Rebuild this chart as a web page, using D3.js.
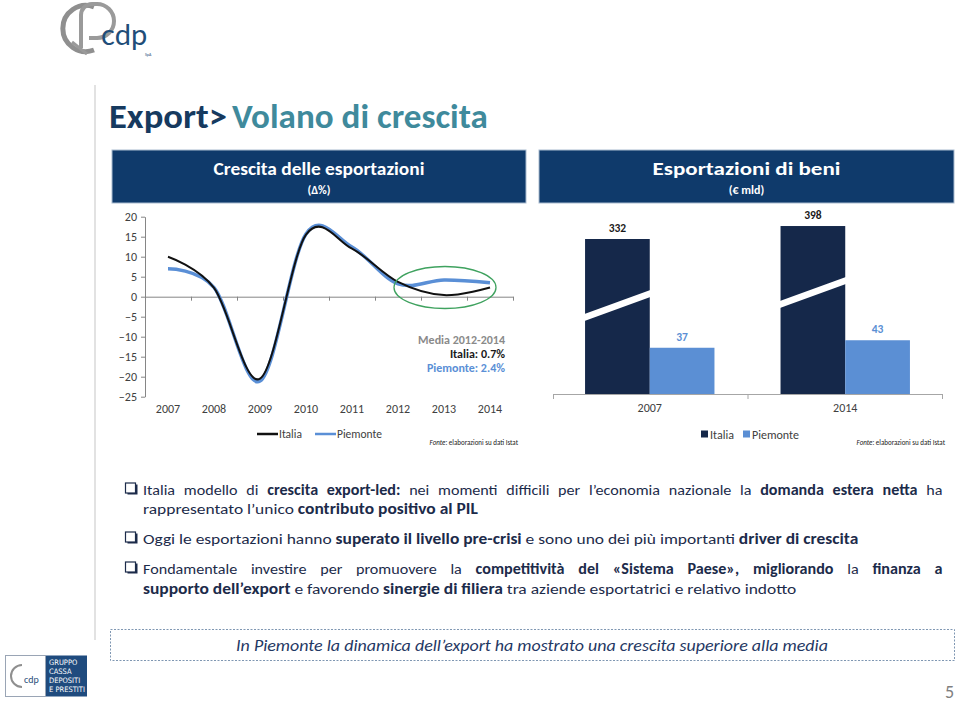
<!DOCTYPE html>
<html>
<head>
<meta charset="utf-8">
<script src="https://cdn.jsdelivr.net/npm/d3@7"></script>
<style>
  body { margin: 0; background: #fff; }
  svg { display: block; font-family: Carlito, Lato, "Open Sans", sans-serif; }
</style>
</head>
<body>
<div id="slide"></div>
<script>
// Chart data
const years = ["2007", "2008", "2009", "2010", "2011", "2012", "2013", "2014"];
const italiaGrowth = [10.0, 2.2, -20.5, 15.5, 12.0, 3.7, 0.4, 2.3];
const piemonteGrowth = [7.0, 2.3, -21.1, 15.7, 12.4, 3.2, 4.2, 3.5];
const growthTicks = [20, 15, 10, 5, 0, -5, -10, -15, -20, -25];
const mediaLabels = ["Media 2012-2014", "Italia: 0.7%", "Piemonte: 2.4%"];

const barYears = ["2007", "2014"];
const italiaExport = [332, 398];
const piemonteExport = [37, 43];
const seriesNames = ["Italia", "Piemonte"];

const fonteText = "elaborazioni su dati Istat";

const bullets = [
  [["Italia modello di ", 0], ["crescita export-led:", 1], [" nei momenti difficili per l’economia nazionale la ", 0], ["domanda estera netta", 1], [" ha", 0]],
  [["rappresentato l’unico ", 0], ["contributo positivo al PIL", 1]],
  [["Oggi le esportazioni hanno ", 0], ["superato il livello pre-crisi", 1], [" e sono uno dei più importanti ", 0], ["driver di crescita", 1]],
  [["Fondamentale investire per promuovere la ", 0], ["competitività del «Sistema Paese»,", 1], [" ", 0], ["migliorando", 1], [" la ", 0], ["finanza a", 1]],
  [["supporto dell’export", 1], [" e favorendo ", 0], ["sinergie di filiera", 1], [" tra aziende esportatrici e relativo indotto", 0]]
];

const navy = "#0f3a6b";
const barDark = "#15284a";
const blue = "#5a8fd6";
const textNavy = "#1c2b4a";

const svg = d3.select("#slide").append("svg")
    .attr("width", 960)
    .attr("height", 703);

// stretch or squeeze a text to a target width (stands in for Calibri metrics)
function fit(text, width, ax) {
    const w = text.node().getComputedTextLength();
    const k = width / w;
    text.attr("transform", `translate(${ax},0) scale(${k},1) translate(${-ax},0)`);
    return k;
}

// ---------- slide frame ----------
svg.append("line")
    .attr("x1", 95).attr("x2", 95).attr("y1", 85).attr("y2", 640)
    .attr("stroke", "#d9d9d9").attr("stroke-width", 1.5);

// top logo
const logo = svg.append("g");
logo.append("path")
    .attr("d", "M94,7 A23,23 0 1,0 94,50")
    .attr("fill", "none").attr("stroke", "#8f8f8f").attr("stroke-width", 5);
logo.append("path")
    .attr("d", "M81,48 L81,15 A11,11 0 0,1 92,4 L97,4 A17,17 0 0,1 97,38 L89,38")
    .attr("fill", "none").attr("stroke", "#9a9a9a").attr("stroke-width", 4);
logo.append("path")
    .attr("d", "M72,42 L87,54")
    .attr("fill", "none").attr("stroke", "#9a9a9a").attr("stroke-width", 3);
logo.append("text")
    .attr("x", 101).attr("y", 45)
    .attr("font-size", 29).attr("fill", "#1f4e79")
    .attr("font-family", "Lato, sans-serif")
    .text("cdp");
logo.append("text")
    .attr("x", 145).attr("y", 56)
    .attr("font-size", 4).attr("fill", "#1f4e79")
    .text("SpA");

// slide title
const t1 = svg.append("text")
    .attr("x", 109).attr("y", 128)
    .attr("font-size", 34).attr("font-weight", 700)
    .attr("fill", "#163a5f")
    .text("Export>");
fit(t1, 118, 109);
const t2 = svg.append("text")
    .attr("x", 232).attr("y", 128)
    .attr("font-size", 34).attr("font-weight", 700)
    .attr("fill", "#3f8a9c")
    .text("Volano di crescita");
fit(t2, 256, 232);

// panel headers
function header(x0, x1, title, sub, titleW) {
    svg.append("rect")
        .attr("x", x0).attr("y", 150)
        .attr("width", x1 - x0).attr("height", 53)
        .attr("fill", navy)
        .attr("stroke", "#a9bbd0").attr("stroke-width", 1);
    const cx = (x0 + x1) / 2;
    const tt = svg.append("text")
        .attr("x", cx).attr("y", 175)
        .attr("text-anchor", "middle")
        .attr("font-size", 19).attr("font-weight", 700)
        .attr("fill", "#fff")
        .text(title);
    fit(tt, titleW, cx);
    svg.append("text")
        .attr("x", cx).attr("y", 194)
        .attr("text-anchor", "middle")
        .attr("font-size", 12).attr("font-weight", 700)
        .attr("fill", "#fff")
        .text(sub);
}
header(112, 526, "Crescita delle esportazioni", "(Δ%)", 211);
header(539, 954, "Esportazioni di beni", "(€ mld)", 188);

// ---------- line chart ----------
const lx = d3.scaleBand().domain(years).range([145, 513]);
const ly = d3.scaleLinear().domain([-25, 20]).range([396.7, 216.7]);
const edge = d3.scaleLinear().domain([0, years.length]).range([145, 513]);

const axisColor = "#868686";

const yAxis = svg.append("g")
    .attr("transform", "translate(145,0)")
    .call(d3.axisLeft(ly).tickValues(growthTicks).tickSize(4).tickSizeOuter(0).tickPadding(4));
yAxis.selectAll("text").attr("font-size", 12).attr("fill", "#404040")
    .attr("font-family", "Carlito, Lato, sans-serif");

const zeroAxis = svg.append("g")
    .attr("transform", `translate(0,${ly(0)})`)
    .call(d3.axisBottom(edge).ticks(years.length).tickSize(4).tickSizeOuter(0).tickFormat(""));

const yearAxis = svg.append("g")
    .attr("transform", "translate(0,401)")
    .call(d3.axisBottom(lx).tickSize(0).tickPadding(3));
yearAxis.select(".domain").remove();
yearAxis.selectAll("text").attr("font-size", 12).attr("fill", "#404040")
    .attr("font-family", "Carlito, Lato, sans-serif");

[yAxis, zeroAxis].forEach(g => {
    g.selectAll(".domain, line").attr("stroke", axisColor);
});

const line = d3.line()
    .x((d, i) => lx(years[i]) + lx.bandwidth() / 2)
    .y(d => ly(d))
    .curve(d3.curveCardinal.tension(0));

svg.append("path")
    .datum(piemonteGrowth)
    .attr("d", line)
    .attr("fill", "none")
    .attr("stroke", blue)
    .attr("stroke-width", 3.5);

svg.append("path")
    .datum(italiaGrowth)
    .attr("d", line)
    .attr("fill", "none")
    .attr("stroke", "#111")
    .attr("stroke-width", 2);

// highlight ellipse round the last years
svg.append("ellipse")
    .attr("cx", (lx("2012") + lx("2014") + lx.bandwidth()) / 2 + 1)
    .attr("cy", ly(2.3))
    .attr("rx", 51).attr("ry", 21)
    .attr("fill", "none")
    .attr("stroke", "#3fa25f").attr("stroke-width", 1.3);

const mediaColors = ["#8a8a8a", "#1a1a1a", blue];
svg.selectAll(".media")
    .data(mediaLabels)
    .enter().append("text")
    .attr("class", "media")
    .attr("x", 505)
    .attr("y", (d, i) => 344 + i * 14)
    .attr("text-anchor", "end")
    .attr("font-size", 12).attr("font-weight", 700)
    .attr("fill", (d, i) => mediaColors[i])
    .text(d => d);

// line legend
const lineLegendX = [257, 315];
const lineColors = ["#111", blue];
seriesNames.forEach((name, i) => {
    svg.append("line")
        .attr("x1", lineLegendX[i]).attr("x2", lineLegendX[i] + 21)
        .attr("y1", 434).attr("y2", 434)
        .attr("stroke", lineColors[i]).attr("stroke-width", 2.5);
    svg.append("text")
        .attr("x", lineLegendX[i] + 22).attr("y", 438)
        .attr("font-size", 11.5).attr("fill", "#404040")
        .text(name);
});

function fonte(xEnd) {
    const t = svg.append("text")
        .attr("x", xEnd).attr("y", 445)
        .attr("text-anchor", "end")
        .attr("font-size", 7).attr("fill", "#222");
    t.append("tspan").attr("font-style", "italic").text("Fonte");
    t.append("tspan").text(": " + fonteText);
}
fonte(518);
fonte(945);

// ---------- bar chart ----------
const bx0 = d3.scaleBand().domain(barYears).range([553, 942])
    .paddingInner(0.338).paddingOuter(0.164);
const bx1 = d3.scaleBand().domain(seriesNames).range([0, bx0.bandwidth()]);
const bEdge = d3.scaleLinear().domain([0, barYears.length]).range([553, 942]);
// broken value axis for Italia, plain one for Piemonte
const yItalia = d3.scaleLinear().domain([0, 40, 300, 450]).range([394, 344, 245.3, 215.8]);
const yPiem = d3.scaleLinear().domain([0, 50]).range([394, 331.5]);

const barData = barYears.map((yr, i) => ({
    year: yr,
    values: [
        { name: "Italia", v: italiaExport[i], y: yItalia, fill: barDark, label: "#1a1a1a" },
        { name: "Piemonte", v: piemonteExport[i], y: yPiem, fill: "#5b8fd4", label: "#5b8fd4" }
    ]
}));

const groups = svg.selectAll(".bargroup")
    .data(barData)
    .enter().append("g")
    .attr("class", "bargroup")
    .attr("transform", d => `translate(${bx0(d.year)},0)`);

groups.selectAll("rect")
    .data(d => d.values)
    .enter().append("rect")
    .attr("x", d => bx1(d.name))
    .attr("width", bx1.bandwidth())
    .attr("y", d => d.y(d.v))
    .attr("height", d => d.y(0) - d.y(d.v))
    .attr("fill", d => d.fill);

// axis break on the Italia bars
groups.each(function (d) {
    const it = d.values[0];
    const top = it.y(it.v);
    const xa = bx1("Italia") - 2, xb = bx1("Italia") + bx1.bandwidth() + 2;
    const ya = top + 79, yb = top + 54, th = 3.5;
    d3.select(this).append("path")
        .attr("d", `M${xa},${ya - th} L${xb},${yb - th} L${xb},${yb + th} L${xa},${ya + th} Z`)
        .attr("fill", "#fff");
});

groups.selectAll(".vlabel")
    .data(d => d.values)
    .enter().append("text")
    .attr("class", "vlabel")
    .attr("x", d => bx1(d.name) + bx1.bandwidth() / 2)
    .attr("y", d => d.y(d.v) - 7)
    .attr("text-anchor", "middle")
    .attr("font-size", 11.5)
    .attr("font-weight", 700)
    .attr("fill", d => d.label)
    .text(d => d.v);

const bAxis = svg.append("g")
    .attr("transform", "translate(0,394)")
    .call(d3.axisBottom(bEdge).ticks(barYears.length).tickSize(5).tickSizeOuter(0).tickFormat(""));
bAxis.selectAll(".domain, line").attr("stroke", "#a6a6a6");

const bYearAxis = svg.append("g")
    .attr("transform", "translate(0,400)")
    .call(d3.axisBottom(bx0).tickSize(0).tickPadding(3));
bYearAxis.select(".domain").remove();
bYearAxis.selectAll("text").attr("font-size", 12).attr("fill", "#404040")
    .attr("font-family", "Carlito, Lato, sans-serif");

// bar legend
const barLegendX = [701, 743];
const barColors = [barDark, "#5b8fd4"];
seriesNames.forEach((name, i) => {
    svg.append("rect")
        .attr("x", barLegendX[i]).attr("y", 430.5)
        .attr("width", 7).attr("height", 7)
        .attr("fill", barColors[i]);
    svg.append("text")
        .attr("x", barLegendX[i] + 9).attr("y", 438.5)
        .attr("font-size", 12).attr("fill", "#404040")
        .text(name);
});

// ---------- bullet text ----------
const lineY = [495, 514, 544, 574, 594];
const lineW = [800, 335, 716, 800, 654];
const justified = [true, false, false, true, false];
const checkbox = [true, false, true, true, false];

bullets.forEach((segs, i) => {
    const t = svg.append("text")
        .attr("x", 143).attr("y", lineY[i])
        .attr("font-size", 15)
        .attr("fill", textNavy)
        .attr("xml:space", "preserve")
        .style("white-space", "pre");
    segs.forEach(s => {
        t.append("tspan")
            .attr("font-weight", s[1] ? 700 : 400)
            .text(s[0]);
    });
    if (justified[i]) {
        const nat = t.node().getComputedTextLength();
        const spaces = segs.map(s => s[0]).join("").split(" ").length - 1;
        t.style("word-spacing", ((lineW[i] * 0.93 - nat) / spaces) + "px");
    }
    fit(t, lineW[i], 143);
    if (checkbox[i]) {
        svg.append("rect")
            .attr("x", 127.5).attr("y", lineY[i] - 10.5)
            .attr("width", 10).attr("height", 10)
            .attr("fill", "#1c2b4a");
        svg.append("rect")
            .attr("x", 125.5).attr("y", lineY[i] - 12)
            .attr("width", 10).attr("height", 10)
            .attr("fill", "#fff").attr("stroke", "#1c2b4a").attr("stroke-width", 1.2);
    }
});

// ---------- bottom message ----------
svg.append("rect")
    .attr("x", 110.5).attr("y", 629.5)
    .attr("width", 844).attr("height", 31)
    .attr("fill", "none")
    .attr("stroke", "#7f97b2").attr("stroke-width", 1)
    .attr("stroke-dasharray", "2,1.5");
const msg = svg.append("text")
    .attr("x", 532).attr("y", 651)
    .attr("text-anchor", "middle")
    .attr("font-size", 15.5).attr("font-style", "italic")
    .attr("fill", "#1f3864")
    .text("In Piemonte la dinamica dell’export ha mostrato una crescita superiore alla media");
fit(msg, 592, 532);

// bottom-left group logo
svg.append("rect")
    .attr("x", 5.5).attr("y", 655.5).attr("width", 40).attr("height", 41)
    .attr("fill", "#fff").attr("stroke", "#9aa5b5");
svg.append("path")
    .attr("d", "M22,665 A10,10 0 1,0 22,687")
    .attr("fill", "none").attr("stroke", "#8f8f8f").attr("stroke-width", 2);
svg.append("text")
    .attr("x", 24).attr("y", 683).attr("font-size", 10)
    .attr("fill", "#1f4e79").text("cdp");
svg.append("rect")
    .attr("x", 46).attr("y", 655.5).attr("width", 41).attr("height", 41)
    .attr("fill", "#1f4b7e");
["GRUPPO", "CASSA", "DEPOSITI", "E PRESTITI"].forEach((s, i) => {
    svg.append("text")
        .attr("x", 49).attr("y", 665 + i * 9)
        .attr("font-size", 7.5).attr("fill", "#fff")
        .attr("font-family", "'Liberation Sans Narrow', 'DejaVu Sans Condensed', sans-serif")
        .text(s);
});

// page number
svg.append("text")
    .attr("x", 954).attr("y", 698)
    .attr("text-anchor", "end")
    .attr("font-size", 18).attr("fill", "#7f7f7f")
    .text("5");
</script>
</body>
</html>
